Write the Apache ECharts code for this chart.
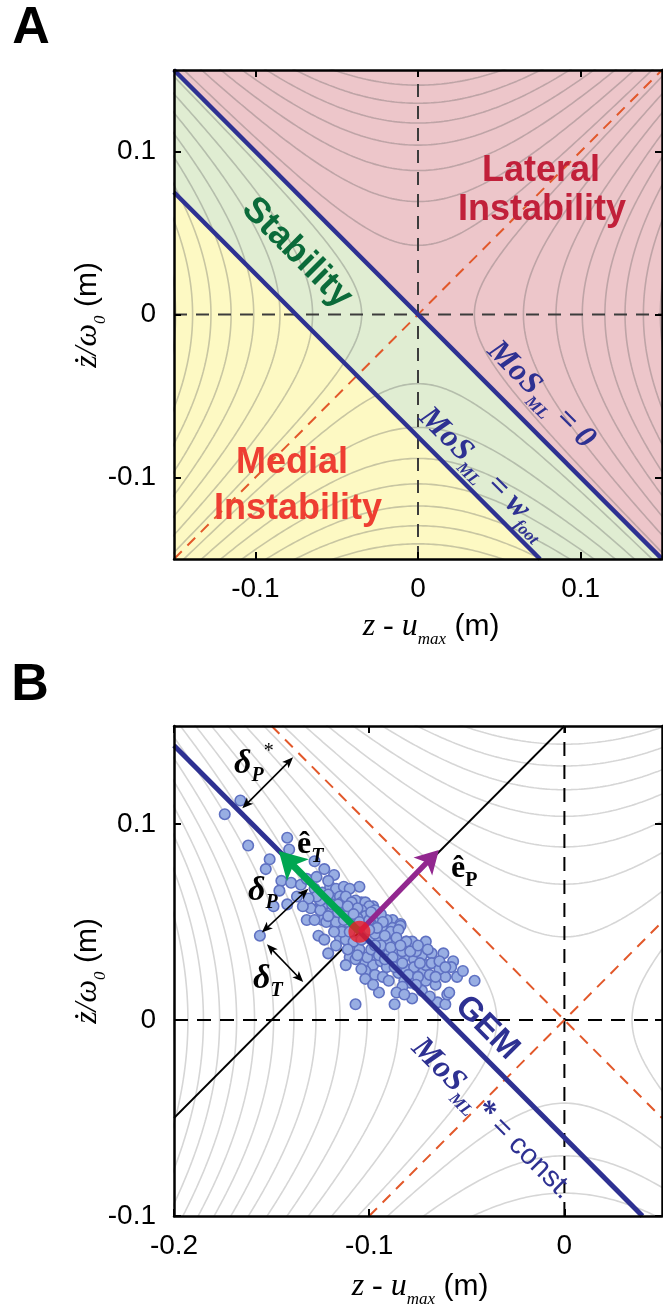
<!DOCTYPE html>
<html><head><meta charset="utf-8">
<script src="https://cdn.jsdelivr.net/npm/echarts@6/dist/echarts.min.js"></script>
<style>html,body{margin:0;padding:0;background:#fff}#c{width:663px;height:1309px}</style>
</head><body><div id="c"></div>
<script>
// ================= DATA =================
const ticksA = [-0.1, 0, 0.1];
const ticksBX = [-0.2, -0.1, 0];
const ticksBY = [-0.1, 0, 0.1];
// orbital-energy contour levels (x^2 - y^2 = c)
const contourLevels = [-0.0258, -0.0228, -0.0198, -0.0168, -0.0138, -0.0108, -0.0078, -0.0048, -0.0018,
  0.0012, 0.0042, 0.0072, 0.0102, 0.0132, 0.0162, 0.0192, 0.0222, 0.0252, 0.0282, 0.0312, 0.0342, 0.0372, 0.0402];
// Panel A regions (vertices in data units)
const regionLateral = [[-0.15, 0.15], [0.15, 0.15], [0.15, -0.15]];
const regionStable = [[-0.15, 0.15], [0.15, -0.15], [0.075, -0.15], [-0.15, 0.075]];
const regionMedial = [[-0.15, 0.075], [0.075, -0.15], [-0.15, -0.15]];
// Panel A lines
const lineMoS0 = [[-0.15, 0.15], [0.15, -0.15]];
const lineMoSW = [[-0.15, 0.075], [0.075, -0.15]];
const lineDiagA = [[-0.15, -0.15], [0.15, 0.15]];
const zeroVA = [[0, -0.15], [0, 0.15]];
const zeroHA = [[-0.15, 0], [0.15, 0]];
// Panel B lines
const lineGEM = [[-0.2, 0.14], [0.04, -0.1]];
const linePerp = [[-0.2, -0.05], [0, 0.15]];
const orangeB1 = [[-0.15, 0.15], [0.05, -0.05]];
const orangeB2 = [[-0.1, -0.1], [0.05, 0.05]];
const zeroVB = [[0, -0.1], [0, 0.15]];
const zeroHB = [[-0.2, 0], [0.05, 0]];
// Panel B arrows [x1,y1,x2,y2]
const arrowET = [[-0.105, 0.045, -0.1463, 0.0862]];
const arrowEP = [[-0.105, 0.045, -0.0643, 0.0867]];
const arrowsDelta = [[-0.165, 0.108, -0.139, 0.134], [-0.155, 0.0446, -0.1312, 0.067], [-0.1524, 0.0386, -0.1338, 0.0194]];
const comPoint = [[-0.105, 0.045]];
// Panel B strides
const strides = [
[-0.166,0.112],[-0.174,0.105],[-0.162,0.089],[-0.142,0.093],[-0.141,0.087],[-0.151,0.082],[-0.153,0.077],[-0.128,0.081],
[-0.123,0.077],[-0.145,0.071],[-0.140,0.070],[-0.146,0.066],[-0.135,0.069],[-0.118,0.074],[-0.142,0.059],[-0.156,0.043],
[-0.128,0.067],[-0.124,0.065],[-0.120,0.068],[-0.117,0.067],[-0.113,0.068],[-0.105,0.068],[-0.125,0.060],[-0.122,0.058],
[-0.118,0.061],[-0.114,0.062],[-0.120,0.055],[-0.117,0.053],[-0.113,0.057],[-0.108,0.058],[-0.104,0.060],[-0.124,0.051],
[-0.119,0.050],[-0.115,0.048],[-0.102,0.057],[-0.098,0.058],[-0.097,0.053],[-0.091,0.050],[-0.088,0.051],[-0.084,0.049],
[-0.081,0.040],[-0.078,0.040],[-0.110,0.067],[-0.122,0.062],[-0.115,0.063],[-0.107,0.061],[-0.102,0.060],[-0.100,0.058],
[-0.130,0.057],[-0.125,0.056],[-0.119,0.056],[-0.115,0.057],[-0.110,0.055],[-0.104,0.056],[-0.102,0.053],[-0.097,0.056],
[-0.132,0.051],[-0.128,0.051],[-0.122,0.050],[-0.117,0.050],[-0.091,0.051],[-0.088,0.047],[-0.084,0.048],[-0.096,0.050],
[-0.093,0.046],[-0.089,0.045],[-0.085,0.046],[-0.126,0.043],[-0.115,0.042],[-0.112,0.041],[-0.108,0.038],[-0.105,0.036],
[-0.099,0.041],[-0.095,0.042],[-0.091,0.040],[-0.086,0.042],[-0.081,0.040],[-0.071,0.040],[-0.097,0.033],[-0.093,0.035],
[-0.110,0.032],[-0.107,0.031],[-0.102,0.029],[-0.098,0.028],[-0.094,0.030],[-0.089,0.029],[-0.085,0.031],[-0.081,0.033],
[-0.077,0.031],[-0.073,0.033],[-0.068,0.034],[-0.062,0.034],[-0.057,0.030],[-0.121,0.034],[-0.102,0.025],[-0.097,0.023],
[-0.093,0.022],[-0.085,0.024],[-0.081,0.026],[-0.077,0.027],[-0.072,0.025],[-0.071,0.028],[-0.058,0.027],[-0.102,0.021],
[-0.082,0.020],[-0.079,0.019],[-0.071,0.020],[-0.066,0.018],[-0.061,0.022],[-0.046,0.020],[-0.095,0.014],[-0.083,0.017],
[-0.078,0.011],[-0.107,0.008],[-0.087,0.008],[-0.065,0.009],[-0.061,0.008],[-0.060,0.013],[-0.114,0.060],[-0.119,0.059],
[-0.125,0.061],[-0.111,0.050],[-0.114,0.045],[-0.110,0.045],[-0.108,0.040],[-0.102,0.045],[-0.097,0.044],[-0.092,0.043],
[-0.101,0.032],[-0.104,0.026],[-0.091,0.027],[-0.086,0.036],[-0.090,0.034],[-0.059,0.014],[-0.112,0.053],[-0.106,0.052],
[-0.099,0.049],[-0.094,0.038],[-0.089,0.037],[-0.083,0.035],[-0.076,0.035],[-0.074,0.029],[-0.068,0.029],[-0.064,0.026],
[-0.127,0.063],[-0.121,0.064],[-0.116,0.059],[-0.112,0.063],[-0.109,0.060],[-0.106,0.057],[-0.111,0.058],[-0.116,0.055],
[-0.121,0.053],[-0.113,0.051],[-0.108,0.054],[-0.105,0.050],[-0.100,0.051],[-0.099,0.055],[-0.094,0.054],[-0.093,0.050],
[-0.096,0.047],[-0.100,0.046],[-0.104,0.041],[-0.111,0.036],[-0.106,0.033],[-0.099,0.036],[-0.095,0.033],[-0.092,0.031],
[-0.088,0.032],[-0.087,0.027],[-0.083,0.029],[-0.079,0.035],[-0.075,0.038],[-0.080,0.023],[-0.075,0.022],[-0.069,0.023],
[-0.064,0.030],[-0.066,0.022],[-0.090,0.020],[-0.098,0.018],[-0.086,0.014],[-0.073,0.015],[-0.069,0.012],[-0.055,0.022],
[-0.052,0.025],[-0.131,0.062],[-0.134,0.058],[-0.137,0.063],[-0.132,0.072],[-0.127,0.073],[-0.121,0.071],[-0.149,0.058],
[-0.118,0.045],[-0.123,0.041],[-0.117,0.038],[-0.112,0.028],[-0.097,0.038],[-0.084,0.038],[-0.070,0.036],[-0.061,0.027],
[-0.076,0.018],[-0.082,0.013]
];

// ================= HELPERS =================
function contourCurves(levels, xr, yr) {
  const out = []; const n = 200;
  levels.forEach(c => {
    [1, -1].forEach(s => {
      const pts = [];
      for (let i = 0; i <= n; i++) {
        if (c > 0) { const y = yr[0] + (yr[1] - yr[0]) * i / n; pts.push([s * Math.sqrt(y * y + c), y]); }
        else { const x = xr[0] + (xr[1] - xr[0]) * i / n; pts.push([x, s * Math.sqrt(x * x - c)]); }
      }
      out.push(pts);
    });
  });
  return out;
}
function lineS(data, ax, style, z) {
  return { type: 'line', xAxisIndex: ax, yAxisIndex: ax, data: data, showSymbol: false, symbol: 'none',
    lineStyle: style, z: z, silent: true, animation: false, clip: true, emphasis: { disabled: true } };
}
function polyS(poly, ax, fill) {
  return { type: 'custom', xAxisIndex: ax, yAxisIndex: ax, data: poly, z: 1, silent: true, clip: true, animation: false,
    renderItem: function (params, api) {
      if (params.dataIndex !== 0) return;
      return { type: 'polygon', shape: { points: poly.map(p => api.coord(p)) }, style: { fill: fill } };
    } };
}
function arrowS(data, ax, color, width, hl, hw, both, z) {
  return { type: 'custom', xAxisIndex: ax, yAxisIndex: ax, data: data, z: z, silent: true, clip: false, animation: false,
    renderItem: function (params, api) {
      const p1 = api.coord([api.value(0), api.value(1)]);
      const p2 = api.coord([api.value(2), api.value(3)]);
      const dx = p2[0] - p1[0], dy = p2[1] - p1[1], L = Math.hypot(dx, dy);
      const ux = dx / L, uy = dy / L, nx = -uy, ny = ux;
      function head(t, dx_, dy_) {
        const bx = t[0] - dx_ * hl, by = t[1] - dy_ * hl;
        const mx = t[0] - dx_ * hl * 0.75, my = t[1] - dy_ * hl * 0.75;
        return { type: 'polygon', shape: { points: [t, [bx + nx * hw / 2, by + ny * hw / 2], [mx, my], [bx - nx * hw / 2, by - ny * hw / 2]] },
          style: { fill: color } };
      }
      const s = both ? [p1[0] + ux * hl * 0.7, p1[1] + uy * hl * 0.7] : p1;
      const e = [p2[0] - ux * hl * 0.7, p2[1] - uy * hl * 0.7];
      const children = [{ type: 'line', shape: { x1: s[0], y1: s[1], x2: e[0], y2: e[1] }, style: { stroke: color, lineWidth: width } },
        head(p2, ux, uy)];
      if (both) children.push(head(p1, -ux, -uy));
      return { type: 'group', children: children };
    } };
}
function mkX(grid, pos, ticks, min, max, labels) {
  return { type: 'value', gridIndex: grid, position: pos, min: min, max: max, z: 10,
    axisLine: { onZero: false, lineStyle: { color: '#000', width: 2.5 } },
    axisTick: { show: true, inside: true, length: 7, customValues: ticks, lineStyle: { color: '#000', width: 2 } },
    axisLabel: { show: labels, customValues: ticks, margin: 16, fontSize: 28, fontFamily: 'Liberation Sans', color: '#000',
      formatter: v => String(v) },
    splitLine: { show: false } };
}
function mkY(grid, pos, ticks, min, max, labels) {
  const a = mkX(grid, pos, ticks, min, max, labels); a.axisLabel.margin = 18; return a;
}

// ================= OPTION =================
const contourA = contourCurves(contourLevels, [-0.16, 0.16], [-0.16, 0.16]);
const contourB = contourCurves(contourLevels, [-0.21, 0.06], [-0.11, 0.16]);
const series = [];
series.push(polyS(regionLateral, 0, '#edc6ca'));
series.push(polyS(regionStable, 0, '#e0edd2'));
series.push(polyS(regionMedial, 0, '#fdf9c3'));
contourA.forEach(c => series.push(lineS(c, 0, { color: 'rgba(95,95,95,0.33)', width: 1.6 }, 2)));
contourB.forEach(c => series.push(lineS(c, 2, { color: '#d6d6d6', width: 1.6 }, 2)));
// Panel A lines
series.push(lineS(zeroVA, 0, { color: '#3c3c3c', width: 2, type: [13, 9] }, 3));
series.push(lineS(zeroHA, 0, { color: '#3c3c3c', width: 2, type: [13, 9] }, 3));
series.push(lineS(lineDiagA, 0, { color: '#e2582a', width: 2, type: [11, 8] }, 3));
series.push(lineS(lineMoS0, 0, { color: '#2e3192', width: 4.5 }, 5));
series.push(lineS(lineMoSW, 0, { color: '#2e3192', width: 4.5 }, 5));
// Panel B lines
series.push(lineS(zeroVB, 2, { color: '#000', width: 2, type: [14, 9] }, 3));
series.push(lineS(zeroHB, 2, { color: '#000', width: 2, type: [14, 9] }, 3));
series.push(lineS(orangeB1, 2, { color: '#e2582a', width: 2, type: [11, 8] }, 3));
series.push(lineS(orangeB2, 2, { color: '#e2582a', width: 2, type: [11, 8] }, 3));
series.push(lineS(linePerp, 2, { color: '#000', width: 1.8 }, 3));
series.push({ type: 'scatter', xAxisIndex: 2, yAxisIndex: 2, data: strides, symbolSize: 10.5, z: 4, silent: true, animation: false,
  itemStyle: { color: '#98aee3', borderColor: '#5f71c2', borderWidth: 1.6, opacity: 1 } });
series.push(lineS(lineGEM, 2, { color: '#2e3192', width: 5 }, 5));
series.push(arrowS(arrowET, 2, '#00a651', 7, 27, 31, false, 6));
series.push(arrowS(arrowEP, 2, '#92278f', 5.5, 23, 26, false, 6));
series.push(arrowS(arrowsDelta, 2, '#000', 1.6, 11, 9, true, 6));
series.push({ type: 'scatter', xAxisIndex: 2, yAxisIndex: 2, data: comPoint, symbolSize: 22, z: 7, silent: true, animation: false,
  itemStyle: { color: '#ed1c24' } });

const serif = 'Liberation Serif';
const sans = 'Liberation Sans';
const navy = '#2e3192';
function txt(x, y, text, rich, opts) {
  opts = opts || {};
  return { type: 'text', x: x, y: y, rotation: opts.rot || 0, z: 100, silent: true,
    style: { text: text, rich: rich || undefined, align: opts.align || 'center', verticalAlign: 'middle',
      fill: opts.fill || '#000', fontSize: opts.fontSize, fontFamily: opts.fontFamily,
      fontWeight: opts.fontWeight, fontStyle: opts.fontStyle } };
}
const axisRich = {
  i: { fontFamily: serif, fontStyle: 'italic', fontSize: 32, lineHeight: 42, fill: '#000' },
  s: { fontFamily: serif, fontStyle: 'italic', fontSize: 17, verticalAlign: 'bottom', fill: '#000' },
  n: { fontFamily: sans, fontSize: 30, lineHeight: 42, fill: '#000' }
};
const mosRich = {
  m: { fontFamily: serif, fontStyle: 'italic', fontWeight: 'bold', fontSize: 32, lineHeight: 42, fill: navy },
  s: { fontFamily: serif, fontStyle: 'italic', fontWeight: 'bold', fontSize: 17, verticalAlign: 'bottom', fill: navy },
  c: { fontFamily: sans, fontSize: 29, lineHeight: 42, fill: navy }
};
const grkRich = {
  d: { fontFamily: serif, fontStyle: 'italic', fontWeight: 'bold', fontSize: 34, lineHeight: 44, fill: '#000' },
  e: { fontFamily: serif, fontWeight: 'bold', fontSize: 32, lineHeight: 44, fill: '#000' },
  s: { fontFamily: serif, fontStyle: 'italic', fontWeight: 'bold', fontSize: 20, verticalAlign: 'bottom', fill: '#000' },
  u: { fontFamily: serif, fontWeight: 'bold', fontSize: 20, verticalAlign: 'bottom', fill: '#000' },
  t: { fontFamily: serif, fontSize: 20, verticalAlign: 'top', fill: '#000' }
};
const R = Math.PI / 4;
const graphics = [
  txt(31, 29, 'A', null, { fontSize: 52, fontWeight: 'bold', fontFamily: sans }),
  txt(30, 686, 'B', null, { fontSize: 52, fontWeight: 'bold', fontFamily: sans }),
  txt(431, 627, '{i|z - u}{s|max}{n| (m)}', axisRich),
  txt(420, 1287, '{i|z - u}{s|max}{n| (m)}', axisRich),
  Object.assign(txt(88, 315, '{i|ż/ω}{s|0}{n| (m)}', axisRich), { rotation: Math.PI / 2 }),
  Object.assign(txt(88, 971, '{i|ż/ω}{s|0}{n| (m)}', axisRich), { rotation: Math.PI / 2 }),
  txt(541, 171, 'Lateral', null, { fontSize: 36, fontWeight: 'bold', fontFamily: sans, fill: '#c1203a' }),
  txt(542, 210, 'Instability', null, { fontSize: 36, fontWeight: 'bold', fontFamily: sans, fill: '#c1203a' }),
  txt(292, 463, 'Medial', null, { fontSize: 36, fontWeight: 'bold', fontFamily: sans, fill: '#ee3e32' }),
  txt(298, 509, 'Instability', null, { fontSize: 36, fontWeight: 'bold', fontFamily: sans, fill: '#ee3e32' }),
  txt(297, 253, 'Stability', null, { fontSize: 36, fontWeight: 'bold', fontFamily: sans, fill: '#0b6b3a', rot: -R }),
  txt(541, 395, '{m|MoS}{s|ML}{m| = 0}', mosRich, { rot: -R }),
  txt(484, 473, '{m|MoS}{s|ML}{m| = w}{s|foot}', mosRich, { rot: -R }),
  txt(487, 1028, 'GEM', null, { fontSize: 33, fontWeight: 'bold', fontFamily: sans, fill: navy, rot: -R }),
  txt(492, 1119, '{m|MoS}{s|ML}{m|*}{c| = const.}', mosRich, { rot: -R }),
  txt(234, 764, '{d|δ}{s|P}{t|*}', grkRich, { align: 'left' }),
  txt(297, 845, '{e|ê}{s|T}', grkRich, { align: 'left' }),
  txt(451, 869, '{e|ê}{u|P}', grkRich, { align: 'left' }),
  txt(248, 891, '{d|δ}{s|P}', grkRich, { align: 'left' }),
  txt(253, 979, '{d|δ}{s|T}', grkRich, { align: 'left' })
];

const option = {
  animation: false,
  backgroundColor: '#fff',
  grid: [
    { left: 174, top: 70, width: 488, height: 489, containLabel: false, outerBoundsMode: 'none' },
    { left: 174, top: 726, width: 488, height: 490, containLabel: false, outerBoundsMode: 'none' }
  ],
  xAxis: [
    mkX(0, 'bottom', ticksA, -0.15, 0.15, true),
    mkX(0, 'top', ticksA, -0.15, 0.15, false),
    mkX(1, 'bottom', ticksBX, -0.2, 0.05, true),
    mkX(1, 'top', ticksBX, -0.2, 0.05, false)
  ],
  yAxis: [
    mkY(0, 'left', ticksA, -0.15, 0.15, true),
    mkY(0, 'right', ticksA, -0.15, 0.15, false),
    mkY(1, 'left', ticksBY, -0.1, 0.15, true),
    mkY(1, 'right', ticksBY, -0.1, 0.15, false)
  ],
  series: series,
  graphic: graphics
};
const chart = echarts.init(document.getElementById('c'), null, { renderer: 'canvas', width: 663, height: 1309 });
chart.setOption(option);
</script></body></html>
